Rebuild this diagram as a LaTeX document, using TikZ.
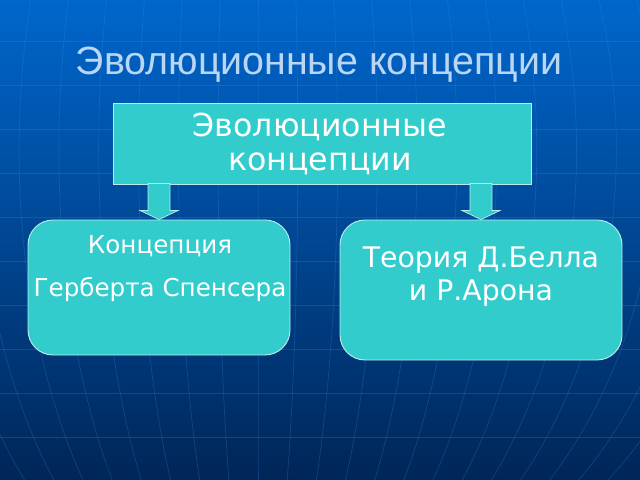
\documentclass[tikz,border=0pt]{standalone}
\usepackage{fontspec}
\setmainfont{Liberation Sans}
\newfontfamily\boxfont{DejaVu Sans}
\usetikzlibrary{positioning}
\definecolor{bgtop}{RGB}{0,102,204}
\definecolor{bgmid}{RGB}{0,66,145}
\definecolor{bgbot}{RGB}{0,38,88}
\definecolor{gridc}{RGB}{70,140,230}
\definecolor{teal1}{RGB}{51,204,204}
\definecolor{rim}{RGB}{185,235,240}
\definecolor{titlec}{RGB}{185,215,245}
\newcommand{\pxu}{0.03cm}
\tikzset{
  gridline/.style={gridc, opacity=0.25, line width=0.6pt},
  cbox/.style={draw=rim, fill=teal1, line width=0.8pt},
  ctext/.style={text=white, align=center},
  barrow/.style={draw=rim, fill=teal1, line width=0.6pt, line join=miter}
}

\begin{document}
\begin{tikzpicture}[x=0.03cm, y=-0.03cm]
 		\useasboundingbox (0,0) rectangle (640,480);
 		\shade [top color=bgtop, middle color=bgmid, bottom color=bgbot] (0,0) rectangle (640,480);
 		\begin{scope}
 		\clip (0,0) rectangle (640,480);
 		\foreach \k in {-9,...,12}
 		  \draw [gridline] plot [variable=\t, domain=0:480, samples=30] ({258+\k*36*sqrt(1-((\t-150)/485)^2)/0.904}, \t);
 		\foreach \yy in {41,85,...,481}
 		  \draw [gridline] (0,\yy) -- (640,\yy);
 		\end{scope}
 		\node [anchor=base, text=titlec, font=\fontsize{33.6}{40}\selectfont] (title) at (319,75) {Эволюционные концепции};
 		\node [cbox, minimum width=418*\pxu, minimum height=81*\pxu] (v1) at (322,143.5) {};
 		\node [cbox, rounded corners=0.75cm, minimum width=262*\pxu, minimum height=135*\pxu] (v2) at (159,287.5) {};
 		\node [cbox, rounded corners=0.75cm, minimum width=282*\pxu, minimum height=140*\pxu] (v3) at (481,290) {};
 		\node [ctext, font=\boxfont\fontsize{27}{29}\selectfont] (t1) at (320,144) {Эволюционные\\концепции};
 		\node [ctext, font=\boxfont\fontsize{21}{36.6}\selectfont] (t2) at (160,269) {Концепция\\Герберта Спенсера};
 		\node [ctext, font=\boxfont\fontsize{24.2}{28}\selectfont] (t3) at (481,277) {Теория Д.Белла\\и Р.Арона};
 		\draw [barrow] (v2.north) -- ++(19,-9) -- ++(-8,0) -- ++(0,-27) -- ++(-22,0) -- ++(0,27) -- ++(-8,0) -- cycle;
 		\draw [barrow] (v3.north) -- ++(19,-9) -- ++(-8,0) -- ++(0,-27) -- ++(-22,0) -- ++(0,27) -- ++(-8,0) -- cycle;
 		\end{tikzpicture}
\end{document}
